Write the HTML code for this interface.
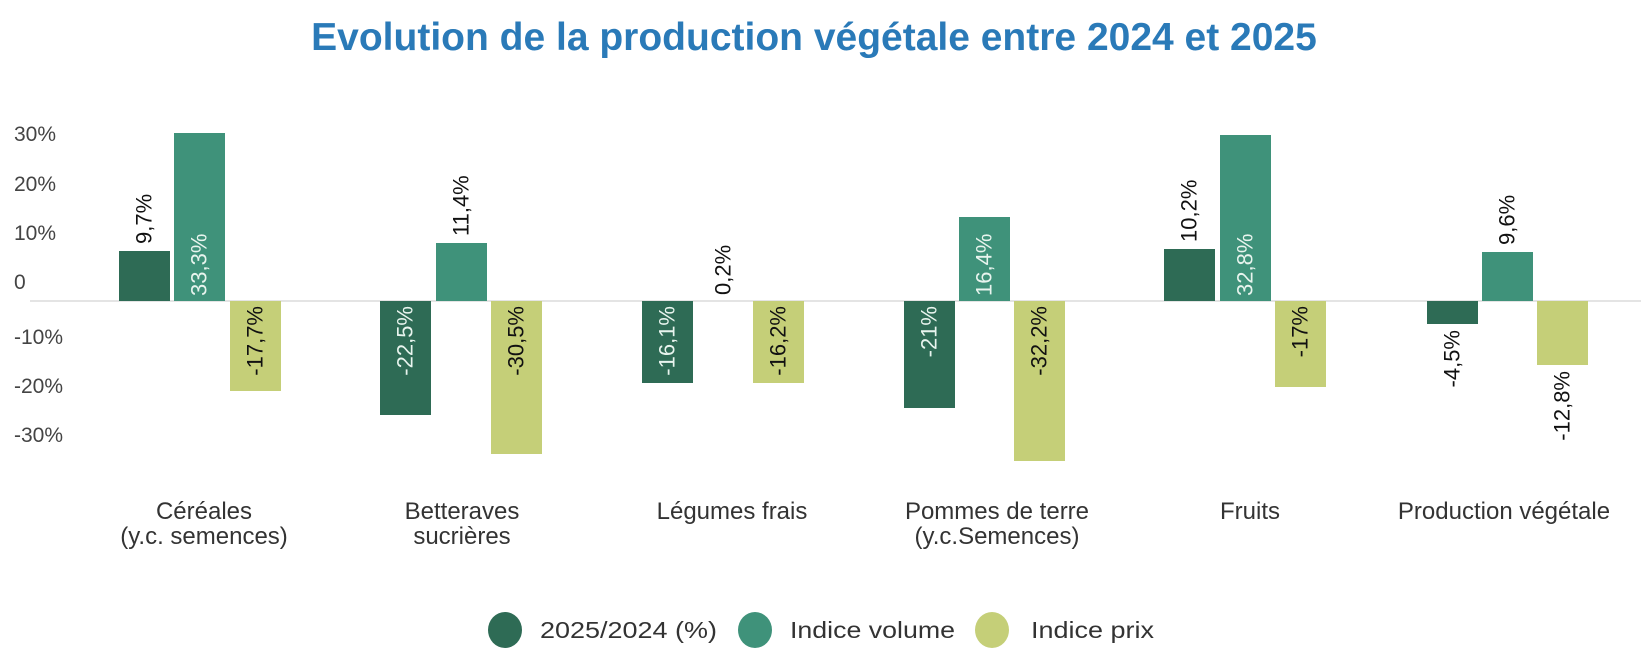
<!DOCTYPE html>
<html><head><meta charset="utf-8"><style>
html,body{margin:0;padding:0;background:#fff}
svg{display:block}
text{font-family:"Liberation Sans",sans-serif}
</style></head><body>
<svg width="1647" height="669" viewBox="0 0 1647 669">
<text x="814" y="50" text-anchor="middle" font-size="39" font-weight="bold" fill="#2a7ab8">Evolution de la production végétale entre 2024 et 2025</text>
<g font-size="21" fill="#444">
<text x="14" y="141">30%</text>
<text x="14" y="191">20%</text>
<text x="14" y="240">10%</text>
<text x="14" y="289">0</text>
<text x="14" y="344">-10%</text>
<text x="14" y="393">-20%</text>
<text x="14" y="442">-30%</text>
</g>
<line x1="30" y1="301" x2="1641" y2="301" stroke="#dcdcdc" stroke-width="1.5"/>
<g font-size="22">
<rect x="119" y="251" width="51" height="50" fill="#2e6b55"/>
<text transform="translate(144,244) rotate(-90)" dominant-baseline="central" fill="#111">9,7%</text>
<rect x="174" y="133" width="51" height="168" fill="#3f927a"/>
<text transform="translate(199,296) rotate(-90)" dominant-baseline="central" fill="#e8f4ee">33,3%</text>
<rect x="230" y="301" width="51" height="90" fill="#c5cf78"/>
<text transform="translate(255,306) rotate(-90)" text-anchor="end" dominant-baseline="central" fill="#111">-17,7%</text>
<rect x="380" y="301" width="51" height="114" fill="#2e6b55"/>
<text transform="translate(405,306) rotate(-90)" text-anchor="end" dominant-baseline="central" fill="#e8f4ee">-22,5%</text>
<rect x="436" y="243" width="51" height="58" fill="#3f927a"/>
<text transform="translate(461,236) rotate(-90)" dominant-baseline="central" fill="#111">11,4%</text>
<rect x="491" y="301" width="51" height="153" fill="#c5cf78"/>
<text transform="translate(516,306) rotate(-90)" text-anchor="end" dominant-baseline="central" fill="#111">-30,5%</text>
<rect x="642" y="301" width="51" height="82" fill="#2e6b55"/>
<text transform="translate(667,306) rotate(-90)" text-anchor="end" dominant-baseline="central" fill="#e8f4ee">-16,1%</text>
<text transform="translate(723,295) rotate(-90)" dominant-baseline="central" fill="#111">0,2%</text>
<rect x="753" y="301" width="51" height="82" fill="#c5cf78"/>
<text transform="translate(778,306) rotate(-90)" text-anchor="end" dominant-baseline="central" fill="#111">-16,2%</text>
<rect x="904" y="301" width="51" height="107" fill="#2e6b55"/>
<text transform="translate(929,306) rotate(-90)" text-anchor="end" dominant-baseline="central" fill="#e8f4ee">-21%</text>
<rect x="959" y="217" width="51" height="84" fill="#3f927a"/>
<text transform="translate(984,296) rotate(-90)" dominant-baseline="central" fill="#e8f4ee">16,4%</text>
<rect x="1014" y="301" width="51" height="160" fill="#c5cf78"/>
<text transform="translate(1039,306) rotate(-90)" text-anchor="end" dominant-baseline="central" fill="#111">-32,2%</text>
<rect x="1164" y="249" width="51" height="52" fill="#2e6b55"/>
<text transform="translate(1189,242) rotate(-90)" dominant-baseline="central" fill="#111">10,2%</text>
<rect x="1220" y="135" width="51" height="166" fill="#3f927a"/>
<text transform="translate(1245,296) rotate(-90)" dominant-baseline="central" fill="#e8f4ee">32,8%</text>
<rect x="1275" y="301" width="51" height="86" fill="#c5cf78"/>
<text transform="translate(1300,306) rotate(-90)" text-anchor="end" dominant-baseline="central" fill="#111">-17%</text>
<rect x="1427" y="301" width="51" height="23" fill="#2e6b55"/>
<text transform="translate(1452,330) rotate(-90)" text-anchor="end" dominant-baseline="central" fill="#111">-4,5%</text>
<rect x="1482" y="252" width="51" height="49" fill="#3f927a"/>
<text transform="translate(1507,245) rotate(-90)" dominant-baseline="central" fill="#111">9,6%</text>
<rect x="1537" y="301" width="51" height="64" fill="#c5cf78"/>
<text transform="translate(1562,371) rotate(-90)" text-anchor="end" dominant-baseline="central" fill="#111">-12,8%</text>
</g>
<g font-size="24" fill="#333" text-anchor="middle">
<text x="204" y="519">Céréales</text><text x="204" y="544">(y.c. semences)</text>
<text x="462" y="519">Betteraves</text><text x="462" y="544">sucrières</text>
<text x="732" y="519">Légumes frais</text>
<text x="997" y="519">Pommes de terre</text><text x="997" y="544">(y.c.Semences)</text>
<text x="1250" y="519">Fruits</text>
<text x="1504" y="519">Production végétale</text>
</g>
<ellipse cx="505" cy="630" rx="17" ry="18" fill="#2e6b55"/>
<text x="540" y="638" font-size="23" fill="#333" textLength="177" lengthAdjust="spacingAndGlyphs">2025/2024 (%)</text>
<ellipse cx="755" cy="630" rx="17" ry="18" fill="#3f927a"/>
<text x="790" y="638" font-size="23" fill="#333" textLength="165" lengthAdjust="spacingAndGlyphs">Indice volume</text>
<ellipse cx="992" cy="630" rx="17" ry="18" fill="#c5cf78"/>
<text x="1031" y="638" font-size="23" fill="#333" textLength="123" lengthAdjust="spacingAndGlyphs">Indice prix</text>
</svg>
</body></html>
